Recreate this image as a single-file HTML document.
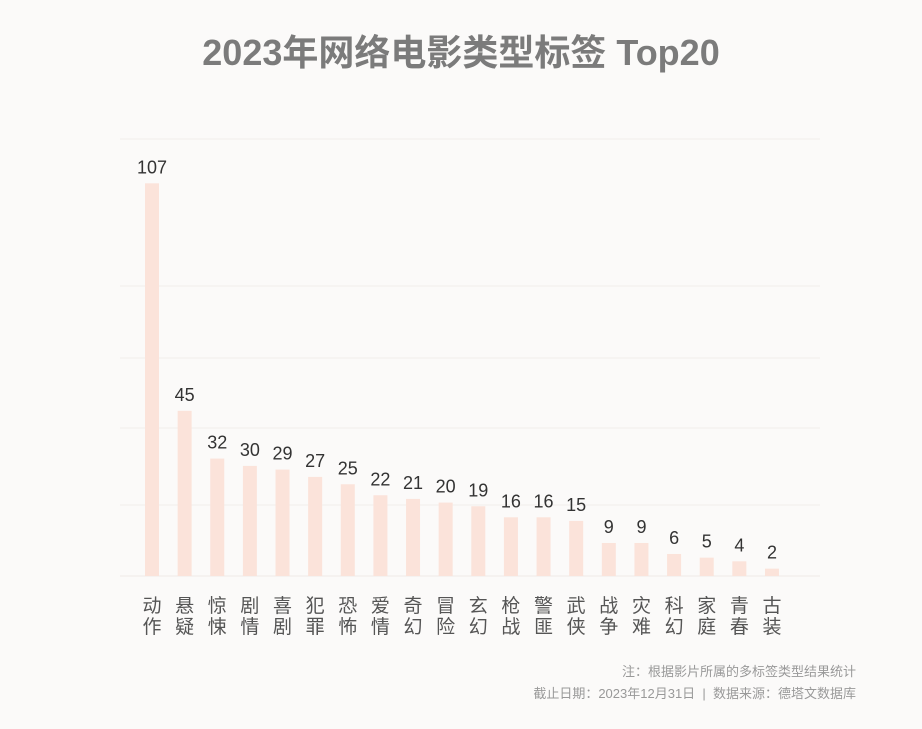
<!DOCTYPE html>
<html><head><meta charset="utf-8"><style>
body{margin:0;width:922px;height:729px;background:#fbfaf9;overflow:hidden;font-family:"Liberation Sans","Noto Sans CJK SC",sans-serif}
#title{position:absolute;top:24px;left:0;width:922px;text-align:center;font-size:36px;font-weight:bold;color:#7b7b7b}
.note{position:absolute;right:66px;font-size:13px;color:#999;text-align:right}
</style></head><body>
<div id="title">2023年网络电影类型标签 Top20</div>
<svg id="chart" width="922" height="729" style="position:absolute;left:0;top:0"></svg>
<div class="note" style="top:661px">注：根据影片所属的多标签类型结果统计</div>
<div class="note" style="top:683px">截止日期：2023年12月31日 &nbsp;|&nbsp; 数据来源：德塔文数据库</div>
<script>
const categories=["动作","悬疑","惊悚","剧情","喜剧","犯罪","恐怖","爱情","奇幻","冒险","玄幻","枪战","警匪","武侠","战争","灾难","科幻","家庭","青春","古装"];
const values=[107,45,32,30,29,27,25,22,21,20,19,16,16,15,9,9,6,5,4,2];
const svg=document.getElementById('chart');
const NS="http://www.w3.org/2000/svg";
const baseY=576, pxPer=3.67, x0=152, step=32.63, bw=14;
const yS=v=>baseY-v*pxPer, xS=i=>x0+i*step;
function mk(t,a){const e=document.createElementNS(NS,t);for(const k in a)e.setAttribute(k,a[k]);svg.appendChild(e);return e;}
[139,286,358,428,505].forEach(y=>{const l=mk('line',{x1:120,x2:820,y1:y,y2:y,stroke:'#f1eeec','stroke-width':1});

});
const ax=mk('line',{x1:120,x2:820,y1:baseY,y2:baseY,stroke:'#efe9e6','stroke-width':1});


values.forEach((v,i)=>{
 const r=mk('rect',{x:xS(i)-bw/2,y:yS(v),width:bw,height:v*pxPer,fill:'#fbe3da'});
 
 
 const t=mk('text',{x:xS(i),y:yS(v)-10,'text-anchor':'middle','font-size':18,fill:'#333'});
 t.textContent=v;
 
 
 [0,1].forEach(j=>{const c=mk('text',{x:xS(i),y:612+j*21,'text-anchor':'middle','font-size':19,fill:'#555'});
 c.textContent=categories[i][j];
 
 });
});
</script>
</body></html>
